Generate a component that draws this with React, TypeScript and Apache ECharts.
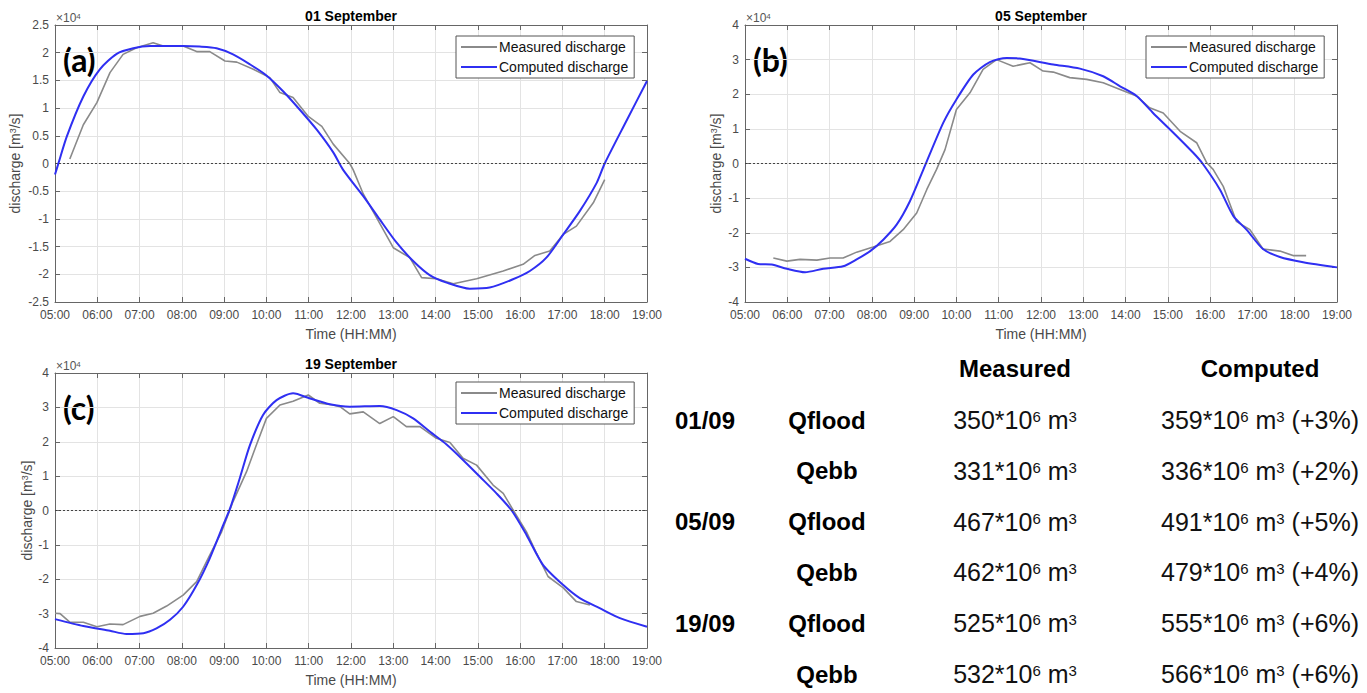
import React, { useEffect, useRef } from 'react';
import * as echarts from 'echarts';

const FONT = '"Liberation Sans", Arial, Helvetica, sans-serif';
const LABEL_FONT = 'Lato, "Open Sans", sans-serif';

// ---------- Data (discharge in units of 10^4 m3/s, time in decimal hours) ----------
const panelTitles = ['01 September', '05 September', '19 September'];
const panelTags = ['(a)', '(b)', '(c)'];

const aMeasT = [5.35, 5.67, 5.99, 6.3, 6.61, 6.93, 7.32, 7.56, 8.03, 8.35, 8.66, 9.02, 9.3, 9.69, 10.08, 10.32, 10.63, 10.99, 11.31, 11.58, 11.97, 12.05, 12.29, 13.0, 13.39, 13.67, 14.02, 14.42, 14.97, 15.6, 16.07, 16.35, 16.7, 17.02, 17.33, 17.73, 18.0];
const aMeasQ = [0.08, 0.7, 1.1, 1.64, 1.97, 2.09, 2.18, 2.12, 2.12, 2.02, 2.02, 1.85, 1.83, 1.7, 1.55, 1.28, 1.19, 0.85, 0.67, 0.35, 0.0, -0.11, -0.55, -1.52, -1.7, -2.06, -2.08, -2.17, -2.08, -1.94, -1.82, -1.66, -1.58, -1.28, -1.13, -0.71, -0.29];
const aCompT = [5.0, 5.08, 5.28, 5.67, 6.06, 6.46, 6.85, 7.25, 7.65, 8.03, 8.42, 8.82, 9.21, 9.61, 10.0, 10.4, 10.79, 11.19, 11.58, 11.81, 12.29, 12.68, 13.08, 13.47, 13.87, 14.26, 14.81, 15.28, 15.83, 16.23, 16.62, 17.02, 17.41, 17.81, 18.0, 18.5, 19.0];
const aCompQ = [-0.2, 0.0, 0.49, 1.21, 1.7, 1.98, 2.08, 2.12, 2.12, 2.12, 2.11, 2.08, 1.97, 1.79, 1.59, 1.3, 0.97, 0.61, 0.2, -0.11, -0.59, -1.01, -1.43, -1.76, -2.02, -2.15, -2.26, -2.24, -2.09, -1.94, -1.7, -1.28, -0.86, -0.35, 0.0, 0.75, 1.49];

const bMeasT = [5.67, 5.99, 6.3, 6.7, 7.01, 7.32, 7.64, 8.03, 8.43, 8.74, 9.06, 9.3, 9.53, 9.73, 10.0, 10.32, 10.63, 10.95, 11.34, 11.58, 11.74, 12.05, 12.29, 12.68, 13.08, 13.47, 13.87, 14.26, 14.57, 14.89, 15.29, 15.68, 15.92, 16.07, 16.31, 16.62, 16.94, 17.25, 17.65, 17.96, 18.27];
const bMeasQ = [-2.73, -2.82, -2.77, -2.79, -2.73, -2.73, -2.56, -2.41, -2.25, -1.91, -1.43, -0.75, -0.17, 0.4, 1.56, 2.04, 2.72, 3.0, 2.81, 2.87, 2.91, 2.67, 2.64, 2.48, 2.43, 2.33, 2.14, 1.95, 1.61, 1.46, 0.93, 0.6, 0.02, -0.17, -0.66, -1.67, -1.91, -2.47, -2.53, -2.66, -2.66];
const bCompT = [5.0, 5.31, 5.63, 5.99, 6.42, 6.85, 7.32, 7.64, 7.96, 8.27, 8.59, 8.9, 9.22, 9.69, 10.0, 10.4, 10.79, 11.19, 11.5, 12.29, 12.92, 13.47, 13.87, 14.26, 14.65, 15.13, 15.6, 15.82, 16.23, 16.55, 16.86, 17.25, 17.65, 18.2, 19.0];
const bCompQ = [-2.75, -2.9, -2.92, -3.04, -3.14, -3.04, -2.97, -2.77, -2.53, -2.2, -1.76, -1.09, -0.17, 1.18, 1.85, 2.57, 2.93, 3.05, 3.03, 2.86, 2.74, 2.52, 2.23, 1.95, 1.46, 0.89, 0.31, 0.0, -0.75, -1.52, -1.91, -2.47, -2.7, -2.85, -3.0];

const cMeasT = [5.0, 5.12, 5.35, 5.67, 5.99, 6.3, 6.61, 7.01, 7.32, 7.64, 8.03, 8.35, 8.66, 8.94, 9.21, 9.53, 9.76, 10.0, 10.32, 10.63, 10.99, 11.26, 11.58, 11.74, 11.97, 12.29, 12.68, 13.0, 13.31, 13.63, 14.02, 14.34, 14.65, 14.97, 15.36, 15.6, 15.84, 16.15, 16.39, 16.66, 17.02, 17.33, 17.65];
const cMeasQ = [-2.99, -3.0, -3.25, -3.25, -3.38, -3.3, -3.32, -3.08, -2.99, -2.78, -2.46, -2.07, -1.3, -0.62, 0.26, 1.13, 1.9, 2.68, 3.07, 3.18, 3.36, 3.12, 3.07, 3.02, 2.81, 2.87, 2.53, 2.73, 2.44, 2.44, 2.1, 1.98, 1.52, 1.32, 0.74, 0.5, 0.0, -0.62, -1.25, -1.92, -2.25, -2.65, -2.75];
const cCompT = [5.0, 5.67, 6.3, 6.69, 7.09, 7.4, 7.72, 8.03, 8.35, 8.66, 8.98, 9.14, 9.37, 9.61, 9.92, 10.24, 10.63, 11.03, 11.5, 11.97, 12.68, 13.08, 13.47, 13.87, 14.26, 14.65, 15.05, 15.44, 15.8, 16.15, 16.54, 17.02, 17.41, 17.88, 18.36, 19.0];
const cCompQ = [-3.16, -3.36, -3.5, -3.59, -3.57, -3.43, -3.18, -2.8, -2.17, -1.39, -0.42, 0.06, 0.94, 1.9, 2.78, 3.21, 3.41, 3.26, 3.09, 3.02, 3.04, 2.92, 2.68, 2.29, 1.92, 1.47, 0.98, 0.5, 0.0, -0.71, -1.58, -2.17, -2.55, -2.84, -3.13, -3.38];

const yMins = [-2.5, -4, -4];
const yMaxs = [2.5, 4, 4];
const yIntervals = [0.5, 1, 1];

// Table
const tableHeaders = ['Measured', 'Computed'];
const tableDates = ['01/09', '05/09', '19/09'];
const flowTypes = ['Qflood', 'Qebb'];
const measuredVol = [350, 331, 467, 462, 525, 532];
const computedVol = [359, 336, 491, 479, 555, 566];
const diffPct = [3, 2, 5, 4, 6, 6];

// ---------- Layout ----------
const grids = [
  { left: 55, top: 25, width: 592, height: 277 },
  { left: 745, top: 25, width: 592, height: 277 },
  { left: 55, top: 373, width: 592, height: 275 },
];
const yNameGaps = [33, 22, 20];
const legendPos = [
  { left: 456, top: 36 },
  { left: 1146, top: 36 },
  { left: 456, top: 382 },
];

const AXIS = '#666666';
const TICKTXT = '#4a4a4a';
const GRIDC = '#e3e3e3';
const GRAY = '#8a8a8a';
const BLUE = '#2f2ff2';

const zip = (t: number[], q: number[]) => t.map((v, i) => [v, q[i]]);
const measured = [zip(aMeasT, aMeasQ), zip(bMeasT, bMeasQ), zip(cMeasT, cMeasQ)];
const computed = [zip(aCompT, aCompQ), zip(bCompT, bCompQ), zip(cCompT, cCompQ)];

const hourFmt = (v: number) => (v < 10 ? '0' : '') + v + ':00';

function buildOption() {
  const xAxis: any[] = [];
  const yAxis: any[] = [];
  grids.forEach((_, i) => {
    xAxis.push({
      type: 'value', gridIndex: i, min: 5, max: 19, interval: 1, position: 'bottom',
      axisLine: { show: true, onZero: false, lineStyle: { color: AXIS, width: 1 } },
      axisTick: { show: true, inside: true, length: 5, lineStyle: { color: AXIS } },
      axisLabel: { color: TICKTXT, fontSize: 12, fontFamily: FONT, margin: 7, formatter: hourFmt },
      splitLine: { show: true, lineStyle: { color: GRIDC, width: 1 } },
      name: 'Time (HH:MM)', nameLocation: 'middle', nameGap: 25,
      nameTextStyle: { color: TICKTXT, fontSize: 14, fontFamily: FONT },
    });
  });
  grids.forEach((_, i) => {
    xAxis.push({
      type: 'value', gridIndex: i, min: 5, max: 19, interval: 1, position: 'top',
      axisLine: { show: true, onZero: false, lineStyle: { color: AXIS, width: 1 } },
      axisTick: { show: true, inside: true, length: 5, lineStyle: { color: AXIS } },
      axisLabel: { show: false }, splitLine: { show: false },
    });
  });
  grids.forEach((_, i) => {
    yAxis.push({
      type: 'value', gridIndex: i, min: yMins[i], max: yMaxs[i], interval: yIntervals[i], position: 'left',
      axisLine: { show: true, onZero: false, lineStyle: { color: AXIS, width: 1 } },
      axisTick: { show: true, inside: true, length: 5, lineStyle: { color: AXIS } },
      axisLabel: { color: TICKTXT, fontSize: 12, fontFamily: FONT, margin: 6 },
      splitLine: { show: true, lineStyle: { color: GRIDC, width: 1 } },
      name: 'discharge [m{s|3}/s]', nameLocation: 'middle', nameGap: yNameGaps[i],
      nameTextStyle: {
        color: TICKTXT, fontSize: 14, fontFamily: FONT,
        rich: { s: { fontSize: 9, fontFamily: FONT, color: TICKTXT, verticalAlign: 'top', lineHeight: 10 } },
      },
    });
  });
  grids.forEach((_, i) => {
    yAxis.push({
      type: 'value', gridIndex: i, min: yMins[i], max: yMaxs[i], interval: yIntervals[i], position: 'right',
      axisLine: { show: true, onZero: false, lineStyle: { color: AXIS, width: 1 } },
      axisTick: { show: true, inside: true, length: 5, lineStyle: { color: AXIS } },
      axisLabel: { show: false }, splitLine: { show: false },
    });
  });

  const series: any[] = [];
  grids.forEach((_, i) => {
    series.push({
      type: 'line', name: 'Measured discharge', xAxisIndex: i, yAxisIndex: i,
      data: measured[i], symbol: 'none', smooth: false,
      lineStyle: { color: GRAY, width: 1.6 }, itemStyle: { color: GRAY }, z: 3,
      markLine: {
        silent: true, symbol: 'none', label: { show: false },
        lineStyle: { color: '#444', type: [2, 2], width: 1 },
        data: [{ yAxis: 0 }],
      },
    });
    series.push({
      type: 'line', name: 'Computed discharge', xAxisIndex: i, yAxisIndex: i,
      data: computed[i], symbol: 'none', smooth: 0.25,
      lineStyle: { color: BLUE, width: 2 }, itemStyle: { color: BLUE }, z: 4,
    });
  });

  const legend = legendPos.map((p) => ({
    left: p.left, top: p.top, orient: 'vertical',
    data: [
      { name: 'Measured discharge', icon: 'rect' },
      { name: 'Computed discharge', icon: 'rect' },
    ],
    backgroundColor: '#fff', borderColor: '#555', borderWidth: 1, borderRadius: 0,
    padding: [3, 6, 3, 5], itemGap: 4, itemWidth: 36, itemHeight: 2,
    textStyle: { fontSize: 14, lineHeight: 16, fontFamily: FONT, color: '#111', padding: [0, 0, 0, -3] },
    selectedMode: false,
  }));

  const elements: any[] = [];
  grids.forEach((g, i) => {
    elements.push({
      type: 'text', x: g.left + g.width / 2, y: i === 2 ? 364 : 16,
      style: { text: panelTitles[i], fill: '#000', fontSize: 14, fontWeight: 'bold', fontFamily: FONT, align: 'center', verticalAlign: 'middle' },
    });
    elements.push({
      type: 'text', x: g.left + 1, y: g.top - 7,
      style: {
        text: '×10{s|4}', fill: '#555', fontSize: 12, fontFamily: FONT, align: 'left', verticalAlign: 'middle',
        rich: { s: { fontSize: 8, fontFamily: FONT, fill: '#555', verticalAlign: 'top', lineHeight: 8 } },
      },
    });
    elements.push({
      type: 'text', x: g.left + 8, y: g.top + 34,
      style: { text: panelTags[i], fill: '#000', fontSize: 32, fontWeight: 'bold', fontFamily: LABEL_FONT, align: 'left', verticalAlign: 'middle' },
    });
  });

  // table
  const colDate = 705, colType = 827, colMeas = 1015, colComp = 1260;
  const headerY = 368;
  const rowY0 = 420, rowStep = 50.8;
  const supRich = {
    s: { fontSize: 15, fontFamily: FONT, fill: '#111', verticalAlign: 'top', lineHeight: 18, padding: [5, 0, 0, 0] },
  };
  tableHeaders.forEach((h, j) => {
    elements.push({
      type: 'text', x: j === 0 ? colMeas : colComp, y: headerY,
      style: { text: h, fill: '#000', fontSize: 24, fontWeight: 'bold', fontFamily: FONT, align: 'center', verticalAlign: 'middle' },
    });
  });
  measuredVol.forEach((m, r) => {
    const y = rowY0 + r * rowStep;
    if (r % 2 === 0) {
      elements.push({
        type: 'text', x: colDate, y,
        style: { text: tableDates[r / 2], fill: '#000', fontSize: 24, fontWeight: 'bold', fontFamily: FONT, align: 'center', verticalAlign: 'middle' },
      });
    }
    elements.push({
      type: 'text', x: colType, y,
      style: { text: flowTypes[r % 2], fill: '#000', fontSize: 24, fontWeight: 'bold', fontFamily: FONT, align: 'center', verticalAlign: 'middle' },
    });
    elements.push({
      type: 'text', x: colMeas, y,
      style: {
        text: `${m}*10{s|6} m{s|3}`, fill: '#111', fontSize: 25, lineHeight: 32, fontFamily: FONT,
        align: 'center', verticalAlign: 'middle', rich: supRich,
      },
    });
    elements.push({
      type: 'text', x: colComp, y,
      style: {
        text: `${computedVol[r]}*10{s|6} m{s|3} (+${diffPct[r]}%)`, fill: '#111', fontSize: 25, lineHeight: 32, fontFamily: FONT,
        align: 'center', verticalAlign: 'middle', rich: supRich,
      },
    });
  });

  return {
    animation: false,
    backgroundColor: '#ffffff',
    grid: grids.map((g) => ({ ...g, containLabel: false })),
    xAxis, yAxis, series, legend,
    graphic: { elements },
  };
}

export default function App() {
  const ref = useRef<HTMLDivElement>(null);
  useEffect(() => {
    if (!ref.current) return;
    const chart = echarts.init(ref.current, undefined, { renderer: 'svg' });
    chart.setOption(buildOption() as any);
    return () => chart.dispose();
  }, []);
  return (
    <div
      ref={ref}
      style={{ position: 'absolute', left: 0, top: 0, width: 1367, height: 693, background: '#fff' }}
    />
  );
}
